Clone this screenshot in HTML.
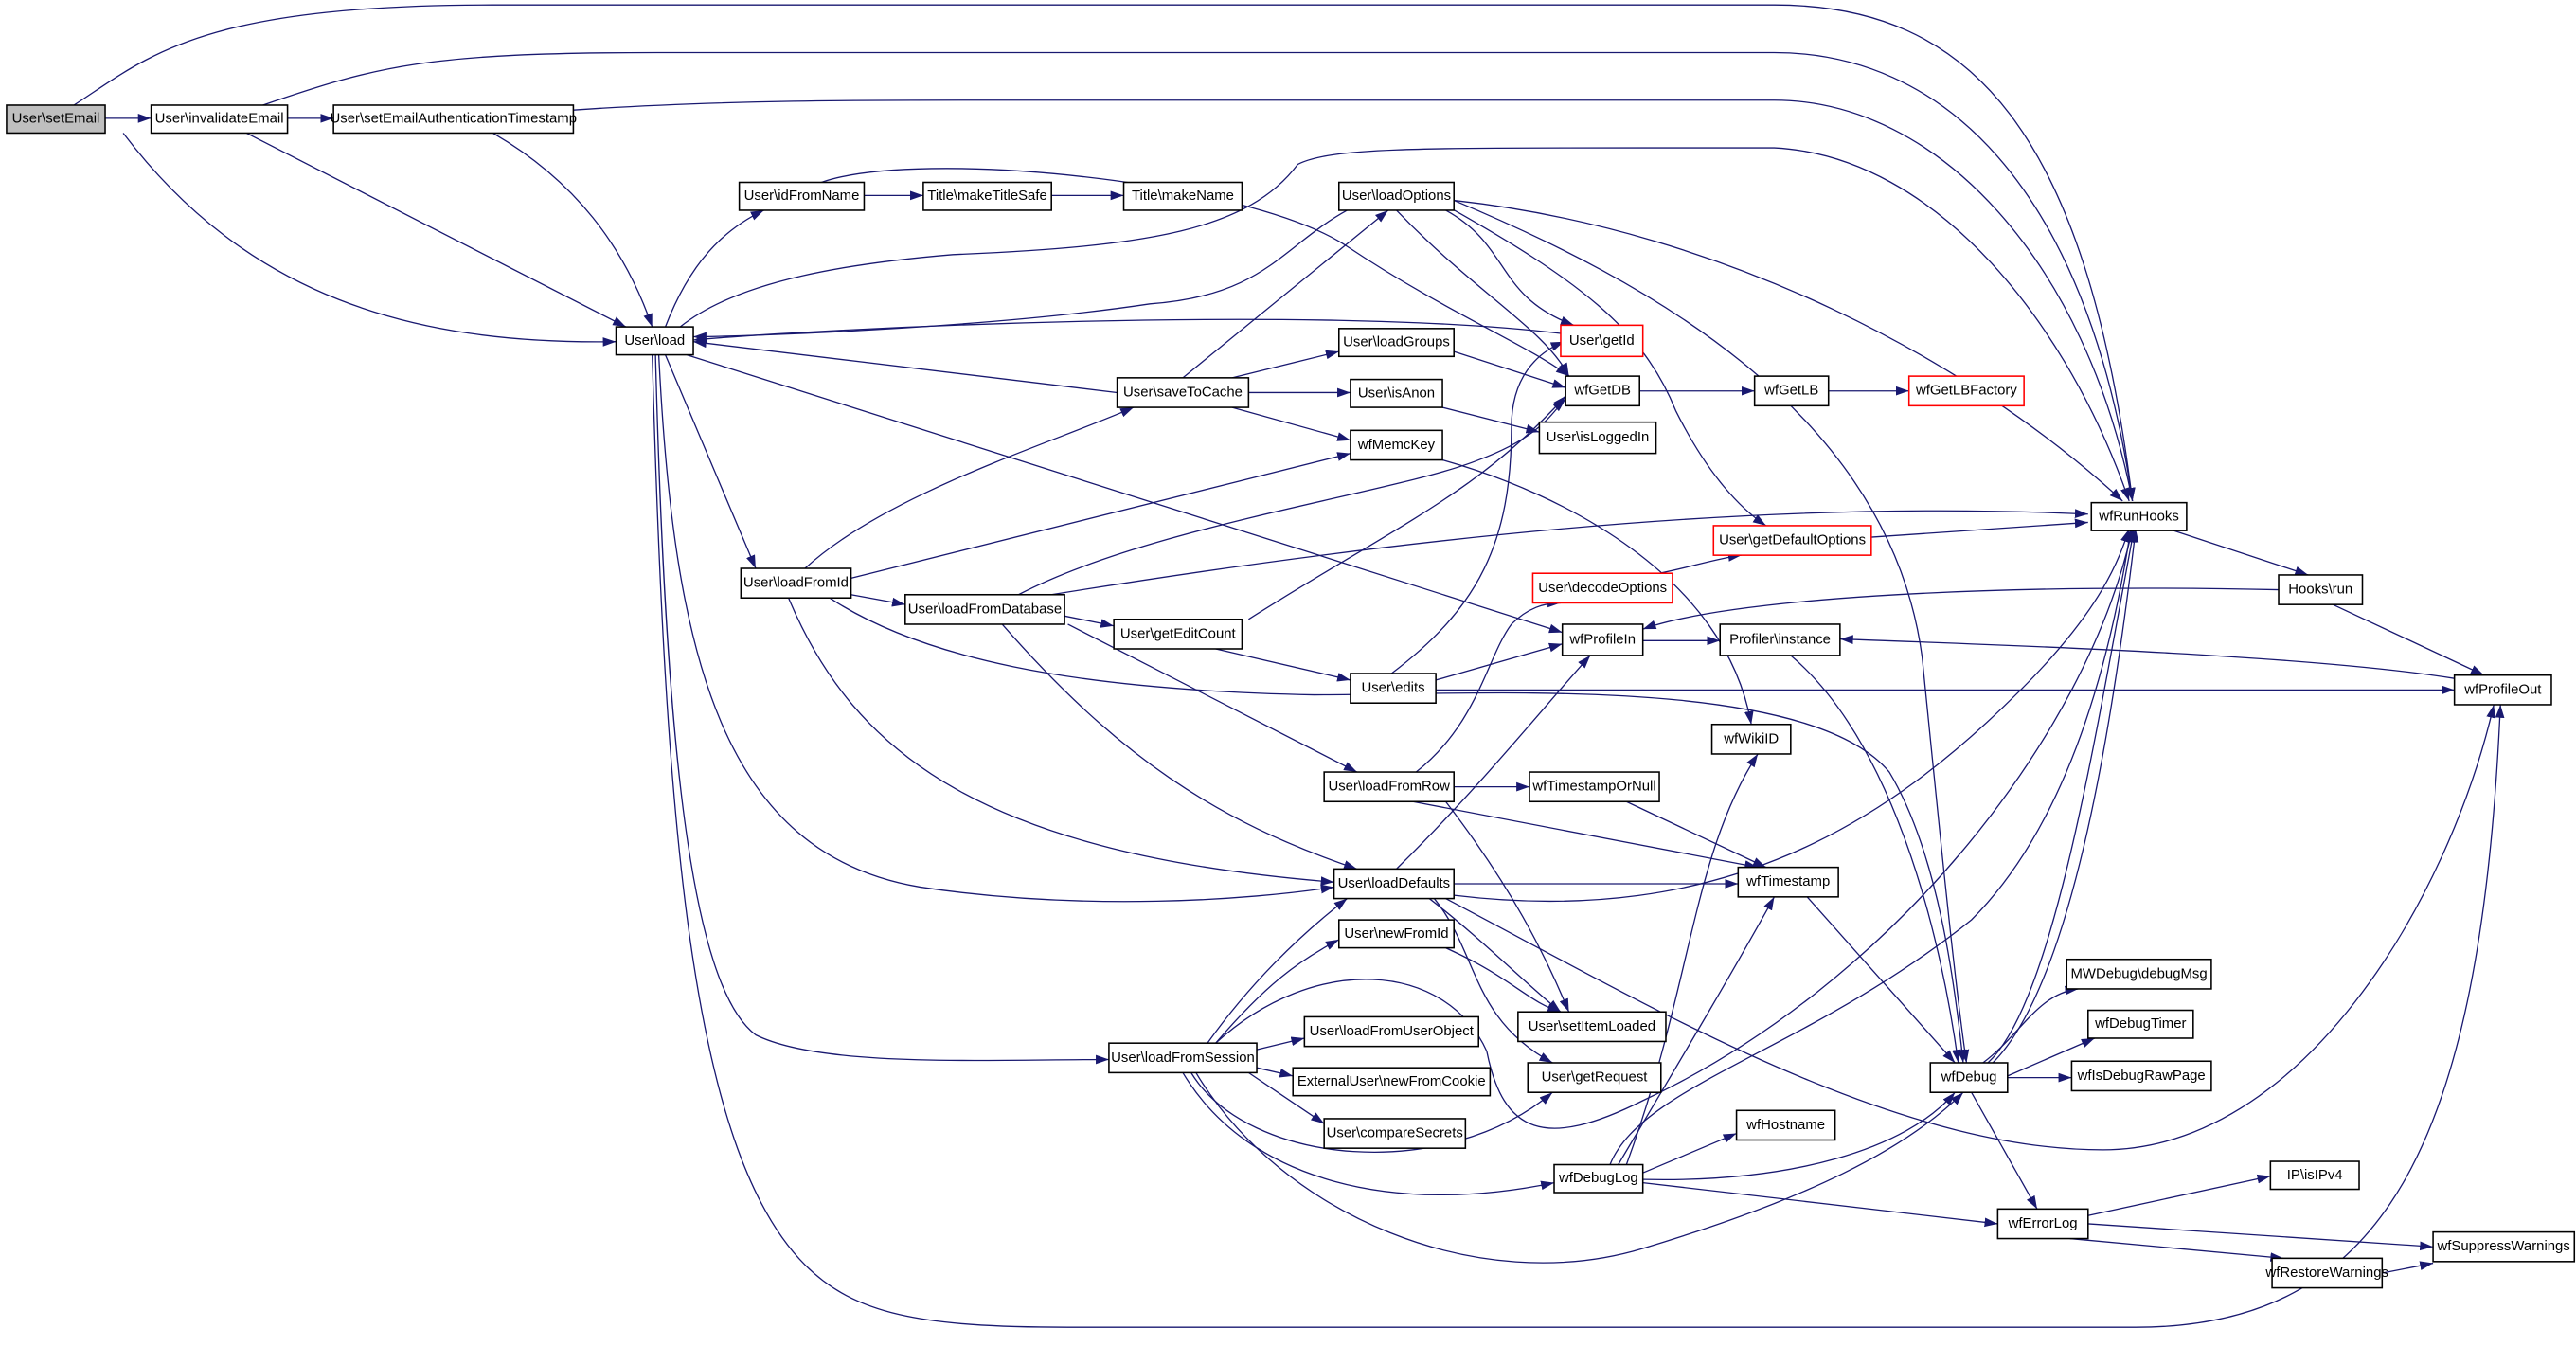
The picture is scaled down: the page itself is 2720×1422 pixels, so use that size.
<!DOCTYPE html>
<html><head><meta charset="utf-8"><style>
html,body{margin:0;padding:0;background:#fff;}
svg{display:block}
text{font-family:"Liberation Sans",sans-serif;font-size:8.6px;fill:#000;text-anchor:middle;dominant-baseline:central}
.e{fill:none;stroke:#191970;stroke-width:0.75}
.n{fill:#fff;stroke:#000;stroke-width:0.9}
.r{fill:#fff;stroke:#ff0000;stroke-width:0.9}
</style></head><body>
<svg width="2720" height="1422" viewBox="0 0 1568 820" preserveAspectRatio="none" xmlns="http://www.w3.org/2000/svg">
<defs><marker id="a" viewBox="0 0 10 10" refX="10" refY="5" markerWidth="8" markerHeight="8" markerUnits="userSpaceOnUse" orient="auto"><path d="M0,1.5 L10,5 L0,8.5 Z" fill="#191970"/></marker></defs>
<g class="e" marker-end="url(#a)">
<path d="M64,72 L92,72"/>
<path d="M175,72 L203,72"/>
<path d="M45,64 C90,35 120,3 300,3 L1080,3 C1200,3 1270,80 1298,305"/>
<path d="M160,64 C230,40 260,32 400,32 L1080,32 C1180,32 1270,110 1298,305"/>
<path d="M349,67 C450,60 550,61 650,61 L1080,61 C1180,61 1270,160 1298,305"/>
<path d="M75,81 C150,180 250,210 375,208"/>
<path d="M150,81 L381,199"/>
<path d="M300,81 C350,110 380,150 397,199"/>
<path d="M405,199 C420,160 440,140 465,128"/>
<path d="M526,119 L562,119"/>
<path d="M640,119 L684,119"/>
<path d="M500,111 C560,90 760,110 820,150 C880,190 930,210 955,229"/>
<path d="M414,199 C450,170 520,160 580,155 C700,150 760,140 790,100 C810,90 860,90 1000,90 L1080,90 C1180,95 1260,200 1296,305"/>
<path d="M820,128 C780,150 770,180 700,185 C600,200 450,205 422,205"/>
<path d="M950,203 C800,185 500,200 422,207"/>
<path d="M680,239 L422,208"/>
<path d="M418,216 L951,385"/>
<path d="M405,216 L460,346"/>
<path d="M401,216 C410,400 440,520 560,540 C660,555 760,548 812,540"/>
<path d="M399,216 C405,450 420,600 460,630 C500,650 600,645 675,645"/>
<path d="M397,216 C405,500 420,700 490,770 C520,800 560,808 650,808 L1300,808 C1450,808 1510,700 1522,429"/>
<path d="M490,346 C540,300 640,270 690,248"/>
<path d="M518,352 L822,276"/>
<path d="M518,362 L551,368"/>
<path d="M480,364 C520,460 600,520 812,537"/>
<path d="M505,364 C560,400 650,420 800,423 C900,423 1100,410 1150,470 C1180,520 1190,600 1195,647"/>
<path d="M620,362 C700,320 850,300 900,280 C940,265 945,250 953,243"/>
<path d="M640,362 C900,320 1100,305 1271,313"/>
<path d="M648,375 L678,381"/>
<path d="M650,380 L826,470"/>
<path d="M610,380 C680,460 740,500 826,529"/>
<path d="M720,230 L845,128"/>
<path d="M750,230 L815,214"/>
<path d="M760,239 L822,239"/>
<path d="M750,248 L822,268"/>
<path d="M880,128 C920,150 910,180 958,198"/>
<path d="M850,128 C900,180 940,200 955,229"/>
<path d="M885,122 C1000,170 1150,250 1170,400 C1180,500 1190,600 1197,647"/>
<path d="M885,122 C1050,140 1200,220 1292,305"/>
<path d="M880,125 C960,170 1000,200 1020,250 C1040,290 1060,310 1075,320"/>
<path d="M885,214 L953,236"/>
<path d="M878,248 L937,263"/>
<path d="M878,280 C950,300 1050,350 1066,441"/>
<path d="M760,377 C850,320 900,300 953,241"/>
<path d="M740,395 L822,414"/>
<path d="M847,410 C900,370 920,330 920,260 C920,230 935,215 952,208"/>
<path d="M874,414 L951,392"/>
<path d="M874,420 L1494,420"/>
<path d="M1000,390 L1047,390"/>
<path d="M1387,359 C1200,355 1050,365 1000,383"/>
<path d="M1420,368 L1512,411"/>
<path d="M1320,322 L1405,350"/>
<path d="M1494,413 C1400,398 1200,392 1120,389"/>
<path d="M1139,327 L1271,318"/>
<path d="M1010,349 C1030,345 1045,340 1060,338"/>
<path d="M998,238 L1068,238"/>
<path d="M1113,238 L1162,238"/>
<path d="M1090,399 C1150,450 1180,560 1192,647"/>
<path d="M885,479 L931,479"/>
<path d="M860,488 L1070,528"/>
<path d="M880,488 C920,540 940,580 955,616"/>
<path d="M862,470 C900,440 905,400 920,380 C930,370 940,367 950,367"/>
<path d="M850,529 C900,480 940,430 968,399"/>
<path d="M990,488 L1075,528"/>
<path d="M885,538 L1058,538"/>
<path d="M885,545 C1050,565 1150,500 1230,420 C1280,370 1290,340 1296,322"/>
<path d="M880,547 C1000,610 1150,700 1280,700 C1400,700 1490,550 1518,429"/>
<path d="M873,547 C900,580 895,620 945,647"/>
<path d="M870,547 C900,570 930,600 950,616"/>
<path d="M735,635 C760,600 790,570 820,547"/>
<path d="M880,577 C920,595 930,610 950,616"/>
<path d="M740,635 C770,600 790,585 815,572"/>
<path d="M765,639 L794,632"/>
<path d="M765,650 L787,655"/>
<path d="M760,653 L806,684"/>
<path d="M725,653 C760,710 880,720 945,665"/>
<path d="M740,635 C800,580 880,585 905,640 C915,690 940,700 1000,670 C1150,600 1270,450 1298,322"/>
<path d="M720,653 C760,720 850,740 946,720"/>
<path d="M728,653 C780,740 900,790 1000,760 C1100,730 1160,700 1195,665"/>
<path d="M990,709 C1030,600 1030,520 1070,459"/>
<path d="M985,709 C1020,650 1050,600 1080,546"/>
<path d="M980,709 C1000,660 1100,640 1200,560 C1260,500 1285,400 1297,322"/>
<path d="M1000,714 L1057,690"/>
<path d="M1000,718 C1090,720 1160,700 1190,665"/>
<path d="M1000,720 L1216,745"/>
<path d="M1100,546 L1190,647"/>
<path d="M1210,647 C1250,610 1275,450 1299,322"/>
<path d="M1213,647 C1260,600 1285,450 1300,322"/>
<path d="M1207,647 C1230,630 1240,605 1265,602"/>
<path d="M1222,655 L1275,632"/>
<path d="M1222,656 L1261,656"/>
<path d="M1200,665 L1240,736"/>
<path d="M1271,740 L1382,716"/>
<path d="M1271,745 L1481,759"/>
<path d="M1260,754 L1390,766"/>
<path d="M1450,775 L1481,769"/>
</g>
<g>
<rect class="n" x="4" y="64" width="60" height="17" fill="#bfbfbf" style="fill:#bfbfbf"/><text x="34" y="72.5">User\setEmail</text>
<rect class="n" x="92" y="64" width="83" height="17"/><text x="133.5" y="72.5">User\invalidateEmail</text>
<rect class="n" x="203" y="64" width="146" height="17"/><text x="276" y="72.5">User\setEmailAuthenticationTimestamp</text>
<rect class="n" x="375" y="199" width="47" height="17"/><text x="398.5" y="207.5">User\load</text>
<rect class="n" x="450" y="111" width="76" height="17"/><text x="488" y="119.5">User\idFromName</text>
<rect class="n" x="562" y="111" width="78" height="17"/><text x="601" y="119.5">Title\makeTitleSafe</text>
<rect class="n" x="684" y="111" width="72" height="17"/><text x="720" y="119.5">Title\makeName</text>
<rect class="n" x="815" y="111" width="70" height="17"/><text x="850" y="119.5">User\loadOptions</text>
<rect class="r" x="950" y="198" width="50" height="19"/><text x="975" y="207.5">User\getId</text>
<rect class="n" x="815" y="200" width="70" height="17"/><text x="850" y="208.5">User\loadGroups</text>
<rect class="n" x="953" y="229" width="45" height="18"/><text x="975.5" y="238">wfGetDB</text>
<rect class="n" x="1068" y="229" width="45" height="18"/><text x="1090.5" y="238">wfGetLB</text>
<rect class="r" x="1162" y="229" width="70" height="18"/><text x="1197" y="238">wfGetLBFactory</text>
<rect class="n" x="680" y="230" width="80" height="18"/><text x="720" y="239">User\saveToCache</text>
<rect class="n" x="822" y="231" width="56" height="17"/><text x="850" y="239.5">User\isAnon</text>
<rect class="n" x="937" y="257" width="71" height="19"/><text x="972.5" y="266.5">User\isLoggedIn</text>
<rect class="n" x="822" y="262" width="56" height="18"/><text x="850" y="271">wfMemcKey</text>
<rect class="n" x="1273" y="306" width="58" height="17"/><text x="1302" y="314.5">wfRunHooks</text>
<rect class="r" x="1043" y="320" width="96" height="18"/><text x="1091" y="329">User\getDefaultOptions</text>
<rect class="n" x="1387" y="350" width="51" height="18"/><text x="1412.5" y="359">Hooks\run</text>
<rect class="n" x="451" y="346" width="67" height="18"/><text x="484.5" y="355">User\loadFromId</text>
<rect class="n" x="551" y="362" width="97" height="18"/><text x="599.5" y="371">User\loadFromDatabase</text>
<rect class="r" x="933" y="349" width="85" height="18"/><text x="975.5" y="358">User\decodeOptions</text>
<rect class="n" x="678" y="377" width="78" height="18"/><text x="717" y="386">User\getEditCount</text>
<rect class="n" x="951" y="380" width="49" height="19"/><text x="975.5" y="389.5">wfProfileIn</text>
<rect class="n" x="1047" y="380" width="73" height="19"/><text x="1083.5" y="389.5">Profiler\instance</text>
<rect class="n" x="822" y="410" width="52" height="18"/><text x="848" y="419">User\edits</text>
<rect class="n" x="1494" y="411" width="59" height="18"/><text x="1523.5" y="420">wfProfileOut</text>
<rect class="n" x="1042" y="441" width="48" height="18"/><text x="1066" y="450">wfWikiID</text>
<rect class="n" x="806" y="470" width="79" height="18"/><text x="845.5" y="479">User\loadFromRow</text>
<rect class="n" x="931" y="470" width="79" height="18"/><text x="970.5" y="479">wfTimestampOrNull</text>
<rect class="n" x="812" y="529" width="73" height="18"/><text x="848.5" y="538">User\loadDefaults</text>
<rect class="n" x="1058" y="528" width="61" height="18"/><text x="1088.5" y="537">wfTimestamp</text>
<rect class="n" x="815" y="560" width="70" height="17"/><text x="850" y="568.5">User\newFromId</text>
<rect class="n" x="924" y="616" width="90" height="18"/><text x="969" y="625">User\setItemLoaded</text>
<rect class="n" x="794" y="619" width="106" height="18"/><text x="847" y="628">User\loadFromUserObject</text>
<rect class="n" x="675" y="635" width="90" height="18"/><text x="720" y="644">User\loadFromSession</text>
<rect class="n" x="787" y="650" width="120" height="17"/><text x="847" y="658.5">ExternalUser\newFromCookie</text>
<rect class="n" x="930" y="647" width="81" height="18"/><text x="970.5" y="656">User\getRequest</text>
<rect class="n" x="806" y="681" width="86" height="18"/><text x="849" y="690">User\compareSecrets</text>
<rect class="n" x="1175" y="647" width="47" height="18"/><text x="1198.5" y="656">wfDebug</text>
<rect class="n" x="1258" y="584" width="88" height="18"/><text x="1302" y="593">MWDebug\debugMsg</text>
<rect class="n" x="1271" y="615" width="64" height="17"/><text x="1303" y="623.5">wfDebugTimer</text>
<rect class="n" x="1261" y="646" width="85" height="18"/><text x="1303.5" y="655">wfIsDebugRawPage</text>
<rect class="n" x="1057" y="676" width="60" height="18"/><text x="1087" y="685">wfHostname</text>
<rect class="n" x="946" y="709" width="54" height="17"/><text x="973" y="717.5">wfDebugLog</text>
<rect class="n" x="1382" y="707" width="54" height="17"/><text x="1409" y="715.5">IP\isIPv4</text>
<rect class="n" x="1216" y="736" width="55" height="18"/><text x="1243.5" y="745">wfErrorLog</text>
<rect class="n" x="1481" y="750" width="86" height="18"/><text x="1524" y="759">wfSuppressWarnings</text>
<rect class="n" x="1383" y="766" width="67" height="18"/><text x="1416.5" y="775">wfRestoreWarnings</text>
</g>
</svg>
</body></html>
